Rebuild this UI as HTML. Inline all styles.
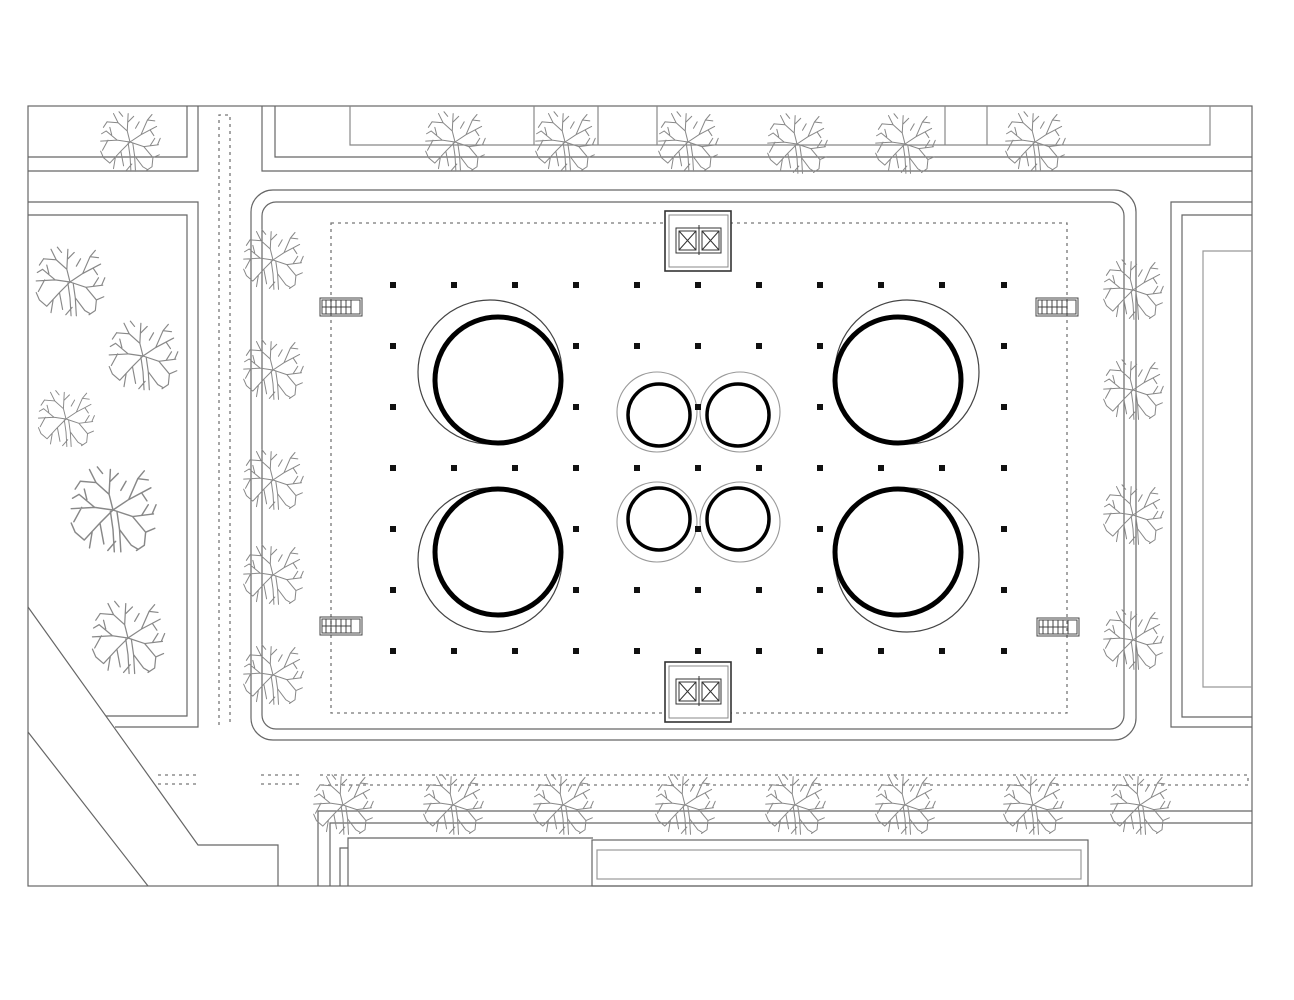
<!DOCTYPE html>
<html><head><meta charset="utf-8"><style>
html,body{margin:0;padding:0;background:#fff}
svg{display:block}
</style></head><body>
<svg width="1294" height="1000" viewBox="0 0 1294 1000" xmlns="http://www.w3.org/2000/svg">
<defs>
<symbol id="tr" viewBox="-36 -36 72 72" overflow="visible">
<g fill="none" stroke="#888" stroke-width="1.1" stroke-linecap="round">
<path d="M0 0 L-3 -12 L-2 -31 M-3 -12 L-13 -21 L-18 -31 M-13 -21 L-25 -22 M-2 -22 L4 -28 M-8 -28 L-12 -33"/>
<path d="M0 0 L12 -8 L29 -17 M12 -8 L19 -24 L24 -30 M19 -24 L27 -23 M22 -13 L26 -7 M6 -15 L10 -22"/>
<path d="M0 0 L15 5 L31 3 M15 5 L25 17 L24 27 M25 17 L32 14 M22 4 L27 -4 M30 3 L33 -4 M24 27 L18 31"/>
<path d="M3 1 L5 15 L6 32 M-2 1 L0 15 L1 32 M5 15 L14 27 L19 30 M2 24 L-4 31"/>
<path d="M0 0 L-10 10 L-22 23 M-10 10 L-7 26 M-22 23 L-29 17 M-16 17 L-18 29 M-29 17 L-32 10"/>
<path d="M0 0 L-14 -2 L-32 -1 M-14 -2 L-26 -12 L-31 -9 M-24 -2 L-30 9 M-20 -8 L-22 -16 M-25 -22 L-29 -16"/>
</g>
</symbol>
<g id="st" fill="none" stroke="#444" stroke-width="1"><rect x="0" y="0" width="42" height="18"/><rect x="2" y="2" width="38" height="14"/><path d="M6 2V16M11 2V16M16 2V16M21 2V16M26 2V16M31 2V16M2 9H31"/></g>
<g id="el" fill="none" stroke="#333" stroke-width="1">
<rect x="0" y="0" width="66" height="60" stroke-width="1.6"/>
<rect x="4" y="4" width="59" height="52" stroke="#888"/>
<rect x="11" y="17" width="45" height="25"/>
<rect x="14" y="20" width="17" height="19"/><path d="M14 20L31 39M31 20L14 39"/>
<rect x="37" y="20" width="17" height="19"/><path d="M37 20L54 39M54 20L37 39"/>
<path d="M34 14V44"/>
</g>
</defs>
<rect width="1294" height="1000" fill="#fff"/>
<g fill="none" stroke="#666" stroke-width="1.2">
<rect x="28" y="106" width="1224" height="780"/>
<path d="M187 106 V157 H28 M198 106 V171 H28"/>
<path d="M28 202 H198 V727 H115 M28 215 H187 V716 H106"/>
<path d="M28 607 L198 845 H278 V886 M28 732 L148 886"/>
<path d="M262 106 V171 H1252 M275 106 V157 H1252"/>
<path d="M350 106 V145 H1210 V106 M534 106 V145 M598 106 V145 M657 106 V145 M945 106 V145 M987 106 V145" stroke="#888"/>
<rect x="251" y="190" width="885" height="550" rx="22"/>
<rect x="262" y="202" width="862" height="527" rx="14"/>
<path d="M1252 202 H1171 V727 H1252 M1252 215 H1182 V717 H1252"/>
<path d="M1252 251 H1203 V687 H1252" stroke="#999"/>
<path d="M318 886 V811 H1252 M330 886 V823 H1252"/>
<path d="M348 886 V838 H593 M340 886 V848 H348"/>
<rect x="592" y="840" width="496" height="46"/>
<rect x="597" y="850" width="484" height="29" stroke="#999"/>
</g>
<g fill="none" stroke="#777" stroke-width="1.3" stroke-dasharray="3 4">
<path d="M219 725 V115 H230 V725"/>
<rect x="331" y="223" width="736" height="490"/>
<path d="M158 775 H198 M158 784 H198 M261 775 H302 M261 784 H302 M320 775 H1248 V785 H320"/>
</g>
<use href="#st" x="320" y="298"/>
<use href="#st" x="1036" y="298"/>
<use href="#st" x="320" y="617"/>
<use href="#st" x="1037" y="618"/>
<rect x="665" y="211" width="66" height="60" fill="#fff"/>
<rect x="665" y="662" width="66" height="60" fill="#fff"/>
<use href="#el" x="665" y="211"/>
<use href="#el" x="665" y="662"/>
<g fill="#111">
<g id="r1"><rect x="390" y="282" width="6" height="6"/><rect x="451" y="282" width="6" height="6"/><rect x="512" y="282" width="6" height="6"/><rect x="573" y="282" width="6" height="6"/><rect x="634" y="282" width="6" height="6"/><rect x="695" y="282" width="6" height="6"/><rect x="756" y="282" width="6" height="6"/><rect x="817" y="282" width="6" height="6"/><rect x="878" y="282" width="6" height="6"/><rect x="939" y="282" width="6" height="6"/><rect x="1001" y="282" width="6" height="6"/></g>
<use href="#r1" y="183"/>
<use href="#r1" y="366"/>
<rect x="390" y="343" width="6" height="6"/><rect x="573" y="343" width="6" height="6"/><rect x="634" y="343" width="6" height="6"/><rect x="695" y="343" width="6" height="6"/><rect x="756" y="343" width="6" height="6"/><rect x="817" y="343" width="6" height="6"/><rect x="1001" y="343" width="6" height="6"/>
<rect x="390" y="404" width="6" height="6"/><rect x="573" y="404" width="6" height="6"/><rect x="695" y="404" width="6" height="6"/><rect x="817" y="404" width="6" height="6"/><rect x="1001" y="404" width="6" height="6"/>
<rect x="390" y="526" width="6" height="6"/><rect x="573" y="526" width="6" height="6"/><rect x="695" y="526" width="6" height="6"/><rect x="817" y="526" width="6" height="6"/><rect x="1001" y="526" width="6" height="6"/>
<rect x="390" y="587" width="6" height="6"/><rect x="573" y="587" width="6" height="6"/><rect x="634" y="587" width="6" height="6"/><rect x="695" y="587" width="6" height="6"/><rect x="756" y="587" width="6" height="6"/><rect x="817" y="587" width="6" height="6"/><rect x="1001" y="587" width="6" height="6"/>
</g>
<g fill="none">
<g stroke="#444" stroke-width="1.2">
<circle cx="490" cy="372" r="72"/><circle cx="490" cy="560" r="72"/>
<circle cx="907" cy="372" r="72"/><circle cx="907" cy="560" r="72"/>
</g>
<g stroke="#999" stroke-width="1.1">
<circle cx="657" cy="412" r="40"/><circle cx="740" cy="412" r="40"/>
<circle cx="657" cy="522" r="40"/><circle cx="740" cy="522" r="40"/>
</g>
<g fill="#fff" stroke="#000">
<circle cx="498" cy="380" r="63" stroke-width="5"/><circle cx="498" cy="552" r="63" stroke-width="5"/>
<circle cx="898" cy="380" r="63" stroke-width="5"/><circle cx="898" cy="552" r="63" stroke-width="5"/>
<circle cx="659" cy="415" r="31" stroke-width="3.5"/><circle cx="738" cy="415" r="31" stroke-width="3.5"/>
<circle cx="659" cy="519" r="31" stroke-width="3.5"/><circle cx="738" cy="519" r="31" stroke-width="3.5"/>
</g>
</g>
<rect x="695" y="404" width="6" height="6" fill="#111"/>
<rect x="695" y="526" width="6" height="6" fill="#111"/>
<g>
<use href="#tr" x="97" y="109" width="66" height="66"/>
<use href="#tr" x="422" y="109" width="66" height="66"/>
<use href="#tr" x="532" y="109" width="66" height="66"/>
<use href="#tr" x="655" y="109" width="66" height="66"/>
<use href="#tr" x="764" y="111" width="66" height="66"/>
<use href="#tr" x="872" y="111" width="66" height="66"/>
<use href="#tr" x="1002" y="109" width="66" height="66"/>
<use href="#tr" x="32" y="244" width="76" height="76"/>
<use href="#tr" x="105" y="318" width="76" height="76"/>
<use href="#tr" x="35" y="388" width="62" height="62"/>
<use href="#tr" x="66" y="463" width="94" height="94"/>
<use href="#tr" x="80" y="598" width="96" height="80"/>
<use href="#tr" x="240" y="227" width="66" height="66"/>
<use href="#tr" x="240" y="337" width="66" height="66"/>
<use href="#tr" x="240" y="447" width="66" height="66"/>
<use href="#tr" x="240" y="542" width="66" height="66"/>
<use href="#tr" x="240" y="642" width="66" height="66"/>
<use href="#tr" x="1100" y="257" width="66" height="66"/>
<use href="#tr" x="1100" y="357" width="66" height="66"/>
<use href="#tr" x="1100" y="482" width="66" height="66"/>
<use href="#tr" x="1100" y="607" width="66" height="66"/>
<use href="#tr" x="310" y="772" width="66" height="66"/>
<use href="#tr" x="420" y="772" width="66" height="66"/>
<use href="#tr" x="530" y="772" width="66" height="66"/>
<use href="#tr" x="652" y="772" width="66" height="66"/>
<use href="#tr" x="762" y="772" width="66" height="66"/>
<use href="#tr" x="872" y="772" width="66" height="66"/>
<use href="#tr" x="1000" y="772" width="66" height="66"/>
<use href="#tr" x="1107" y="772" width="66" height="66"/>
</g>
</svg>
</body></html>
